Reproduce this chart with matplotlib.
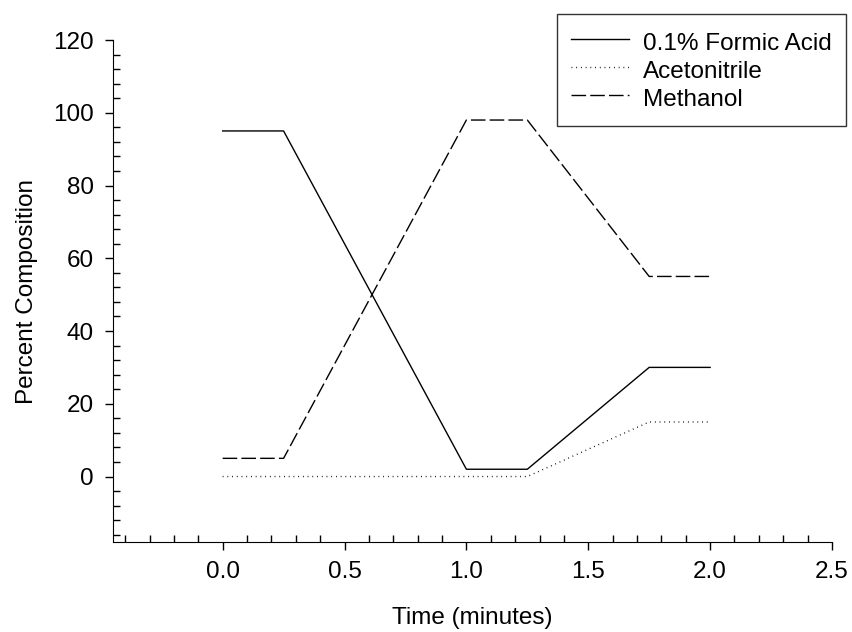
import matplotlib
matplotlib.use("Agg")
import matplotlib.pyplot as plt
from matplotlib.ticker import MultipleLocator

# gradient program
time = [0.0, 0.25, 1.0, 1.25, 1.75, 2.0]
formic = [95, 95, 2, 2, 30, 30]
acn_time = [0.0, 1.25, 1.75, 2.0]
acetonitrile = [0, 0, 15, 15]
methanol = [5, 5, 98, 98, 55, 55]

plt.rcParams['font.family'] = ['Liberation Sans', 'DejaVu Sans']
plt.rcParams['font.size'] = 17.5

fig = plt.figure(figsize=(8.52, 6.32), dpi=100)
ax = fig.add_axes([0.1326, 0.1424, 0.8439, 0.7943])

ax.plot(time, formic, color='black', lw=1.0, label='0.1% Formic Acid')
ax.plot(acn_time, acetonitrile, color='black', lw=1.0, linestyle=(0, (0.6, 2.8)),
        label='Acetonitrile')
ax.plot(time, methanol, color='black', lw=1.0, linestyle=(0, (10.5, 3)),
        label='Methanol')

ax.set_xlim(-0.45, 2.5)
ax.set_ylim(-18, 120)
ax.xaxis.set_minor_locator(MultipleLocator(0.1))
ax.yaxis.set_minor_locator(MultipleLocator(4))
ax.set_xticks([0.0, 0.5, 1.0, 1.5, 2.0, 2.5])
ax.set_xticklabels(['0.0', '0.5', '1.0', '1.5', '2.0', '2.5'])
ax.set_yticks([0, 20, 40, 60, 80, 100, 120])

for s in ['top', 'right']:
    ax.spines[s].set_visible(False)
ax.tick_params(which='major', direction='out', length=6, width=1, pad=8)
ax.tick_params(which='minor', direction='in', length=5, width=1)

ax.set_xlabel('Time (minutes)', labelpad=17)
ax.set_ylabel('Percent Composition', labelpad=11)

leg = ax.legend(loc='upper right', bbox_to_anchor=(846 / 852, 1 - 14 / 632),
                bbox_transform=fig.transFigure, frameon=True, fancybox=False,
                edgecolor='black', handlelength=2.35, borderpad=0.6,
                handleheight=1.3, labelspacing=0.06, handletextpad=0.58,
                borderaxespad=0)
leg.get_frame().set_linewidth(1.0)

fig.savefig('out.png', dpi=100)
